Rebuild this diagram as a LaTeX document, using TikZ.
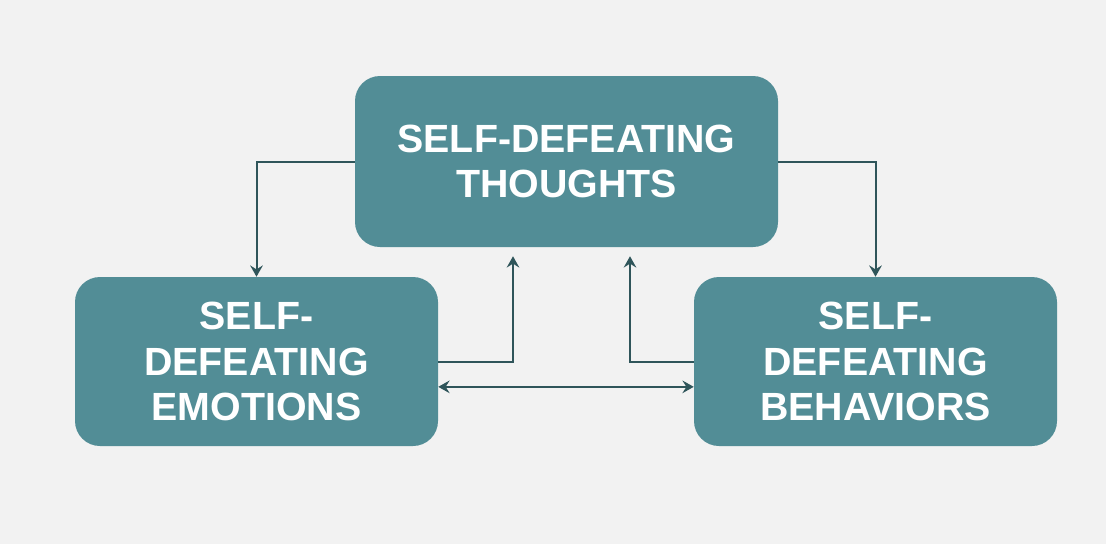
\documentclass[tikz,border=0pt]{standalone}
\usepackage{fontspec}
\setmainfont{Liberation Sans}
\usetikzlibrary{arrows.meta,calc}
\definecolor{boxteal}{HTML}{528D96}
\definecolor{linkteal}{HTML}{2F555A}
\definecolor{backgray}{HTML}{F2F2F2}

\begin{document}
\begin{tikzpicture}[
  x=0.75pt, y=-0.75pt,
  >={Stealth[length=8.5pt, width=9.5pt, inset=3pt]},
  tealbox/.style={rectangle, rounded corners=18.75pt, fill=boxteal, text=white,
    font=\bfseries\fontsize{29.5}{34}\selectfont, align=center, inner sep=0pt},
  link/.style={draw=linkteal, line width=1.5pt},
  ]

\fill[backgray] (0,0) rectangle (1106,544);

\node[tealbox, minimum width=317.25pt, minimum height=128.25pt] (thoughts) at (566.5,161.5) {SELF-DEFEATING\\THOUGHTS};
\node[tealbox, minimum width=272.25pt, minimum height=126.75pt] (emotions) at (256.5,361.5) {SELF-\\DEFEATING\\EMOTIONS};
\node[tealbox, minimum width=272.25pt, minimum height=126.75pt] (behaviors) at (875.5,361.5) {SELF-\\DEFEATING\\BEHAVIORS};

\coordinate (upleft) at ($(thoughts.south)+(-53.5,9)$);
\coordinate (upright) at ($(thoughts.south)+(63.5,9)$);

\draw[link, ->] (thoughts.west) -| (emotions.north);
\draw[link, ->] (thoughts.east) -| (behaviors.north);
\draw[link, ->] (emotions.east) -| (upleft);
\draw[link, ->] (behaviors.west) -| (upright);
\draw[link, <->] ([yshift=-19pt]emotions.east) -- ([yshift=-19pt]behaviors.west);

\end{tikzpicture}
\end{document}
